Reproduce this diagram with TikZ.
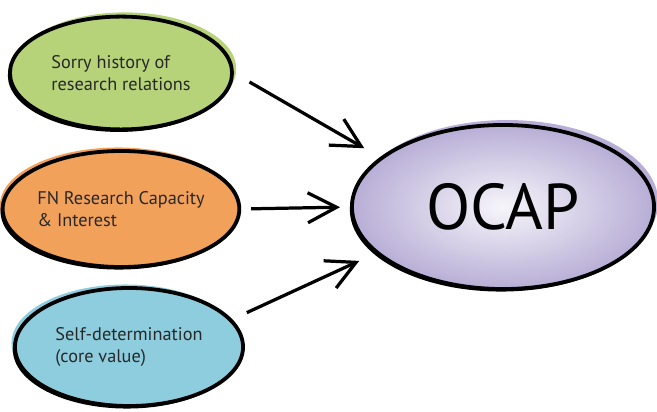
\documentclass[tikz,border=0pt]{standalone}
\usepackage{fontspec}
\setmainfont{PT Sans}
\usetikzlibrary{shapes.geometric,arrows.meta,shadows}

\definecolor{sorrygreen}{RGB}{182,211,122}
\definecolor{fnorange}{RGB}{241,161,90}
\definecolor{selfblue}{RGB}{141,205,221}
\definecolor{ocaplav}{RGB}{184,174,214}
\definecolor{txtgray}{RGB}{40,40,40}

\begin{document}
\begin{tikzpicture}[x=0.025cm, y=-0.025cm,
		bubble/.style = {ellipse, draw=black, line width=2.7pt, fill=#1, inner sep=0pt,
			align=left, text=txtgray},
		pointer/.style = {line width=2.3pt, -{Straight Barb[length=0.72cm,width=0.75cm]}}]
		\tikzstyle{every node} = [font = \fontsize{13}{15.6}\selectfont]
		\useasboundingbox (0,0) rectangle (657,412);

		% three causes on the left
		\node [bubble=sorrygreen, minimum width=5.55cm, minimum height=2.82cm,
			general shadow={fill=sorrygreen, shadow xshift=3pt, shadow yshift=3pt},
			general shadow={fill=black, shadow xshift=-1.5pt, shadow yshift=-1.8pt}]
			(sorry) at (121,73) {Sorry history of\\research relations};
		\node [bubble=fnorange, minimum width=5.55cm, minimum height=2.9cm,
			general shadow={fill=fnorange, shadow xshift=-2pt, shadow yshift=2.5pt},
			general shadow={fill=black, shadow xshift=-1.5pt, shadow yshift=-1.8pt}]
			(fn) at (121,209) {FN Research Capacity\\\& Interest};
		\node [bubble=selfblue, minimum width=5.7cm, minimum height=2.95cm,
			general shadow={fill=selfblue, shadow xshift=-2.5pt, shadow yshift=2.5pt},
			general shadow={fill=black, shadow xshift=-1.5pt, shadow yshift=-1.8pt}]
			(self) at (129,347) {Self-determination\\(core value)};

		% the principle on the right
		\node [ellipse, draw=black, line width=2.7pt, inner sep=0pt,
			minimum width=7.55cm, minimum height=4.1cm,
			shading=radial, inner color=ocaplav!12, outer color=ocaplav,
			general shadow={fill=ocaplav, shadow xshift=3pt, shadow yshift=3.5pt},
			general shadow={fill=black, shadow xshift=-1.5pt, shadow yshift=-1.8pt},
			font=\fontsize{46}{54}\selectfont]
			(ocap) at (503,207) {OCAP};

		\draw [pointer, shorten <=0.45cm, shorten >=0.45cm] (sorry.0) -- (ocap.158); %top
		\draw [pointer, shorten <=0.25cm, shorten >=0.25cm] (fn.east) -- (ocap.west); %middle
		\draw [pointer, shorten <=0.4cm, shorten >=0.45cm] (self.15) -- (ocap.200); %bottom
	\end{tikzpicture}
\end{document}
